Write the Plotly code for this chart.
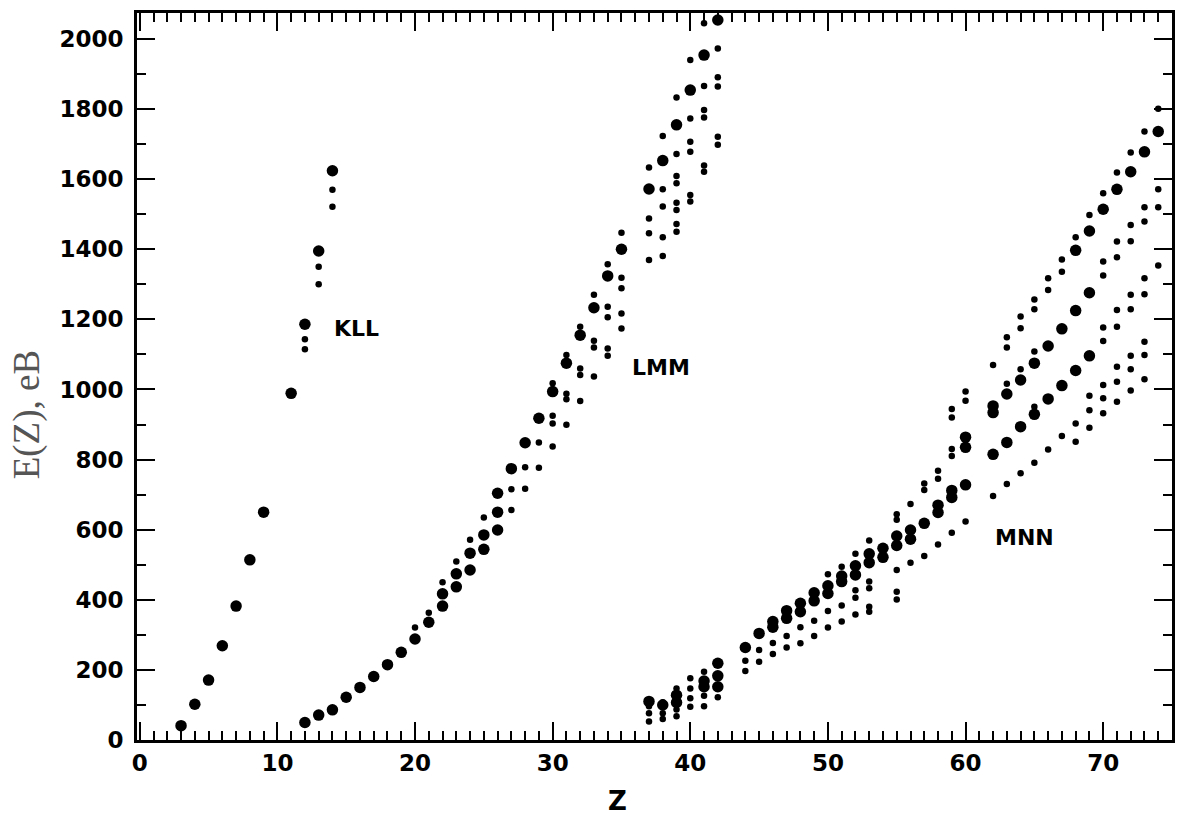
import plotly.graph_objects as go

# ---------------- data (Z, energy in eV) ----------------
kll_big_z = [3, 4, 5, 6, 7, 8, 9, 11, 12, 13, 14]
kll_big_e = [41, 102, 171, 269, 382, 514, 650, 989, 1186, 1395, 1624]
kll_small_z = [12, 12, 13, 13, 14, 14]
kll_small_e = [1143, 1115, 1350, 1300, 1570, 1521]

lmm_big_z = [12, 13, 14, 15, 16, 17, 18, 19, 20, 21, 22, 22, 23, 23, 24, 24, 25, 25,
             26, 26, 26, 27, 28, 29, 30, 31, 32, 33, 34, 35, 37, 38, 39, 40, 41, 42]
lmm_big_e = [50, 71, 86, 122, 150, 181, 215, 250, 288, 336, 382, 417, 437, 474, 485, 533, 544, 585,
             599, 650, 704, 774, 848, 918, 994, 1075, 1155, 1233, 1324, 1400, 1572, 1653, 1755, 1854, 1954, 2054]
lmm_small_z = [20, 21, 22, 23, 24, 25, 27, 27, 28, 28, 29, 29,
               30, 30, 30, 30, 31, 31, 31, 31, 32, 32, 32, 32, 33, 33, 33, 33,
               34, 34, 34, 34, 34, 35, 35, 35, 35, 35, 37, 37, 37, 37,
               38, 38, 38, 38, 38, 39, 39, 39, 39, 39, 39, 39, 39,
               40, 40, 40, 40, 40, 40, 41, 41, 41, 41, 41, 41, 42, 42, 42, 42, 42]
lmm_small_e = [321, 363, 450, 509, 571, 635, 656, 715, 717, 778, 777, 849,
               837, 903, 925, 1018, 899, 972, 988, 1098, 967, 1041, 1060, 1179, 1037, 1120, 1139, 1270,
               1096, 1117, 1206, 1236, 1357, 1174, 1217, 1289, 1319, 1447, 1369, 1446, 1488, 1633,
               1381, 1434, 1522, 1571, 1723, 1450, 1472, 1512, 1533, 1588, 1609, 1672, 1833,
               1536, 1555, 1678, 1707, 1773, 1940, 1621, 1639, 1776, 1797, 1866, 2045, 1698, 1721, 1864, 1891, 1973]

mnn_big_z = [37, 38, 39, 39, 41, 41, 42, 42, 42, 44, 45, 46, 46, 47, 47, 48, 48, 49, 49,
             50, 50, 51, 51, 52, 52, 53, 53, 54, 54, 55, 55, 56, 56, 57, 58, 58, 59, 59,
             60, 60, 60, 62, 62, 62, 63, 63, 64, 64, 65, 65, 66, 66, 67, 67,
             68, 68, 68, 69, 69, 69, 70, 71, 72, 73, 74]
mnn_big_e = [110, 100, 128, 107, 168, 152, 219, 183, 152, 264, 304, 338, 322, 369, 347, 390, 366, 420, 397,
             440, 418, 468, 452, 497, 471, 531, 506, 547, 521, 582, 555, 599, 573, 618, 670, 649, 712, 692,
             864, 835, 728, 953, 934, 815, 987, 849, 1027, 894, 1075, 929, 1124, 973, 1173, 1011,
             1397, 1225, 1054, 1452, 1276, 1096, 1514, 1571, 1621, 1678, 1736]
mnn_small_z = [37, 37, 37, 38, 38, 38, 39, 39, 39, 40, 40, 40, 40, 41, 41, 41, 42,
               44, 44, 45, 45, 46, 46, 47, 47, 48, 48, 49, 49, 50, 50, 50, 51, 51, 51,
               52, 52, 52, 52, 53, 53, 53, 53, 53, 55, 55, 55, 55, 55, 56, 56, 57, 57, 57,
               58, 58, 58, 59, 59, 59, 59, 59, 60, 60, 60, 62, 62,
               63, 63, 63, 63, 64, 64, 64, 64, 65, 65, 65, 65, 65, 66, 66, 66, 67, 67, 67,
               68, 68, 68, 69, 69, 69, 69,
               70, 70, 70, 70, 70, 70, 70, 70, 71, 71, 71, 71, 71, 71, 71, 71,
               72, 72, 72, 72, 72, 72, 72, 72, 73, 73, 73, 73, 73, 73, 73, 73, 74, 74, 74, 74]
mnn_small_e = [96, 76, 53, 108, 76, 60, 147, 87, 68, 176, 147, 119, 95, 195, 126, 96, 122,
               226, 197, 257, 223, 277, 245, 297, 264, 322, 276, 340, 297, 473, 368, 321, 494, 384, 338,
               531, 427, 406, 358, 569, 452, 433, 380, 366, 644, 628, 485, 423, 401, 673, 506, 732, 713, 525,
               768, 745, 558, 944, 920, 830, 810, 591, 994, 968, 623, 1070, 696,
               1149, 1120, 1016, 730, 1208, 1175, 1058, 761, 1257, 1229, 1108, 951, 791, 1317, 1284, 829, 1371, 1336, 867,
               1434, 903, 851, 1498, 982, 941, 891,
               1560, 1365, 1325, 1177, 1138, 1013, 975, 932, 1619, 1422, 1377, 1227, 1179, 1065, 1022, 965,
               1676, 1469, 1423, 1270, 1229, 1096, 1058, 997, 1736, 1520, 1479, 1317, 1272, 1136, 1098, 1029,
               1801, 1571, 1520, 1354]

x_ticks = [0, 10, 20, 30, 40, 50, 60, 70]
y_ticks = [0, 200, 400, 600, 800, 1000, 1200, 1400, 1600, 1800, 2000]

series_labels = ["KLL", "LMM", "MNN"]
label_z = [14.0, 35.6, 62.0]
label_e = [1173, 1064, 578]

BIG, SMALL = 11.5, 6.5
fig = go.Figure()
for zs, es, size in [(kll_big_z, kll_big_e, BIG), (kll_small_z, kll_small_e, SMALL),
                     (lmm_big_z, lmm_big_e, BIG), (lmm_small_z, lmm_small_e, SMALL),
                     (mnn_big_z, mnn_big_e, BIG), (mnn_small_z, mnn_small_e, SMALL)]:
    fig.add_trace(go.Scatter(x=zs, y=es, mode="markers",
                             marker=dict(size=size, color="black", line=dict(width=0)),
                             showlegend=False, hoverinfo="x+y"))

tickfont = dict(family="DejaVu Sans", size=23, color="black", weight="bold")
fig.update_xaxes(range=[-0.2, 75], tickvals=x_ticks, ticks="inside", ticklen=18, tickwidth=2,
                 tickcolor="black", showline=True, linewidth=3, linecolor="black", mirror="ticks",
                 showgrid=False, zeroline=False, tickfont=tickfont, ticklabelstandoff=0,
                 minor=dict(dtick=1, ticks="inside", ticklen=9, tickwidth=1.5, tickcolor="black", showgrid=False))
fig.update_yaxes(range=[0, 2074], tickvals=y_ticks, ticks="inside", ticklen=18, tickwidth=2,
                 tickcolor="black", showline=True, linewidth=3, linecolor="black", mirror="ticks",
                 showgrid=False, zeroline=False, tickfont=tickfont, ticklabelstandoff=6,
                 minor=dict(dtick=100, ticks="inside", ticklen=9, tickwidth=1.5, tickcolor="black", showgrid=False))

annotations = []
for txt, zx, ey in zip(series_labels, label_z, label_e):
    annotations.append(dict(x=zx, y=ey, xref="x", yref="y", text=txt, showarrow=False,
                            xanchor="left", yanchor="middle",
                            font=dict(family="DejaVu Sans", size=22, color="black", weight="bold")))
annotations.append(dict(x=34.7, y=-0.084, xref="x", yref="paper", text="Z", showarrow=False,
                        xanchor="center", yanchor="middle",
                        font=dict(family="DejaVu Sans", size=26, color="black", weight="bold")))
annotations.append(dict(x=-0.106, y=0.447, xref="paper", yref="paper", text="E(Z), eB", showarrow=False,
                        textangle=-90, xanchor="center", yanchor="middle",
                        font=dict(family="Liberation Serif", size=37, color="#555555")))

fig.update_layout(width=1178, height=816, margin=dict(l=137, r=3, t=13, b=76),
                  paper_bgcolor="white", plot_bgcolor="white", annotations=annotations)

fig.write_html("out.html")
